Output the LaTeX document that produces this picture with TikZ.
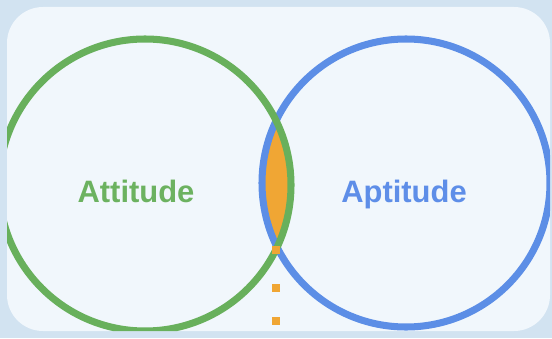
\documentclass[tikz,border=0pt]{standalone}
\usepackage{fontspec}
\setmainfont{Liberation Sans}
\usetikzlibrary{positioning}
\definecolor{backblue}{RGB}{210,227,241}
\definecolor{panelwhite}{RGB}{241,247,252}
\definecolor{ringgreen}{RGB}{104,176,92}
\definecolor{ringblue}{RGB}{92,142,230}
\definecolor{textgreen}{RGB}{108,178,96}
\definecolor{textblue}{RGB}{94,142,232}
\definecolor{lensorange}{RGB}{240,166,52}

\begin{document}
\begin{tikzpicture}[
  ring/.style = {line width=5pt},
  word/.style = {font=\fontsize{22}{26}\selectfont\bfseries, anchor=base, inner sep=0pt},
  sqdot/.style = {fill=lensorange, minimum size=5.5pt, inner sep=0pt}
  ]
	\fill[backblue] (0,0) rectangle (13.8,8.45);
	\useasboundingbox (0,0) rectangle (13.8,8.45);
	\fill[panelwhite, rounded corners=0.9cm] (0.175,0.175) rectangle (13.75,8.275);

	\coordinate (@g) at (3.625,3.825);
	\coordinate (@b) at (10.15,3.875);

	% overlap of the two rings
	\begin{scope}
		\clip (@g) circle (3.65);
		\fill[lensorange] (@b) circle (3.6);
	\end{scope}

	\begin{scope}
		\clip[rounded corners=0.9cm] (0.175,0.175) rectangle (13.75,8.275);
		\draw[ring, ringblue] (@b) circle (3.6);
		\draw[ring, ringgreen] (@g) circle (3.65);
	\end{scope}

	\node[word, text=textgreen] (attitude) at (3.4,3.4) {Attitude};
	\node[word, text=textblue] (aptitude) at (10.1,3.4) {Aptitude};

	\node[sqdot] (dot1) at (6.9,2.2) {};
	\node[sqdot] (dot2) at (6.9,1.25) {};
	\node[sqdot] (dot3) at (6.9,0.425) {};

\end{tikzpicture}
\end{document}
